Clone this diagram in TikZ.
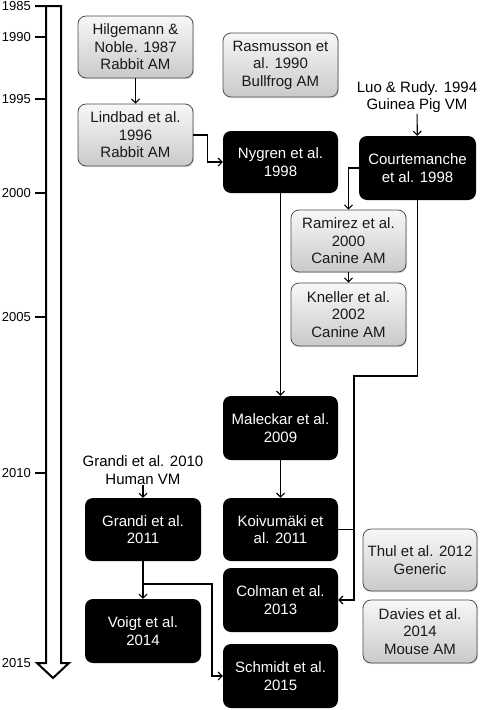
\documentclass[tikz,border=0pt]{standalone}
\usepackage{fontspec}
\setmainfont{Liberation Sans}
\usepackage{tikz}
\usetikzlibrary{shadows,arrows.meta}

\begin{document}
\begin{tikzpicture}[x=1pt, y=-1pt,
    every node/.style={font=\fontsize{15}{17.5}\selectfont},
    model/.style={rounded corners=8pt, minimum width=115pt, minimum height=62pt,
      inner sep=0pt, align=center},
    graybox/.style={model, draw=gray!60!black, line width=0.8pt, top color=gray!6,
      bottom color=gray!42, text=black!90,
      drop shadow={shadow xshift=1.2pt, shadow yshift=-1.2pt, opacity=0.25}},
    blackbox/.style={model, fill=black, text=white},
    conn/.style={-{Straight Barb[length=4pt, width=8pt]}, line width=1.1pt},
    wire/.style={line width=1.1pt},
    year/.style={anchor=east, inner sep=0pt, font=\fontsize{13}{15}\selectfont}]
        \useasboundingbox (0,0) rectangle (480,710);
        % timeline
        \draw[line width=2pt, line join=miter] (35,6) -- (61,6) -- (61,663) -- (69,663)
          -- (53,678) -- (37,663) -- (46,663) -- (46,6);
        \foreach \yr/\ypos in {1990/37, 1995/99, 2000/193, 2005/317, 2010/473}
          \draw[line width=2pt] (35,\ypos) -- (46,\ypos);
        \foreach \yr/\ypos in {1985/6, 1990/37, 1995/99, 2000/193, 2005/317, 2010/473, 2015/663}
          \node[year] at (31,\ypos) {\yr};

        % models
        \node[graybox] (hilg) at (135.5,47) {Hilgemann \&\\Noble. 1987\\Rabbit AM};
        \node[graybox] (lind) at (135.5,135) {Lindbad et al.\\1996\\Rabbit AM};
        \node[graybox, minimum height=64pt] (rasm) at (280.5,65) {Rasmusson et\\al. 1990\\Bullfrog AM};
        \node[blackbox] (nyg) at (280.5,162) {Nygren et al.\\1998};
        \node[align=center, inner sep=1pt] (luo) at (417,97) {Luo \& Rudy. 1994\\Guinea Pig VM};
        \node[blackbox, minimum width=117pt, minimum height=64pt] (court) at (417.5,168) {Courtemanche\\et al. 1998};
        \node[graybox] (ram) at (348.5,241) {Ramirez et al.\\2000\\Canine AM};
        \node[graybox, minimum height=63pt] (knel) at (348.5,314.5) {Kneller et al.\\2002\\Canine AM};
        \node[blackbox, minimum height=64pt] (mal) at (280.5,428) {Maleckar et al.\\2009};
        \node[align=center, inner sep=1pt] (gr10) at (143,470) {Grandi et al. 2010\\Human VM};
        \node[blackbox, minimum width=116pt, minimum height=63pt] (gr11) at (143,529.5) {Grandi et al.\\2011};
        \node[blackbox, minimum width=116pt, minimum height=64pt] (voigt) at (143,631) {Voigt et al.\\2014};
        \node[blackbox, minimum height=63pt] (koiv) at (280.5,529.5) {Koivumäki et\\al. 2011};
        \node[blackbox, minimum height=64pt] (colm) at (280.5,600) {Colman et al.\\2013};
        \node[blackbox, minimum height=64pt] (schm) at (280.5,676) {Schmidt et al.\\2015};
        \node[graybox, minimum width=114pt] (thul) at (420,560) {Thul et al. 2012\\Generic};
        \node[graybox, minimum width=114pt, minimum height=63pt] (dav) at (420,631.5) {Davies et al.\\2014\\Mouse AM};

        % links
        \coordinate (bend) at (354,376);
        \coordinate (split) at (143,584);
        \coordinate (jog) at (212,584);
        \draw[conn] (hilg) -- (lind);
        \draw[conn] (lind.east) -- ++(14,0) |- (nyg.west);
        \draw[conn] (nyg) -- (mal);
        \draw[conn] (mal) -- (koiv);
        \draw[conn] (luo) -- (court);
        \draw[conn] (court.west) -| (ram.north);
        \draw[conn] (ram) -- (knel);
        \draw[conn] (court.south) |- (bend) |- (colm.east);
        \draw[wire] (koiv.east) -- (koiv.east -| bend);
        \draw[conn] (gr10) -- (gr11);
        \draw[conn] (gr11) -- (voigt);
        \draw[conn] (split) -- (jog) |- (schm.west);
      \end{tikzpicture}
\end{document}
